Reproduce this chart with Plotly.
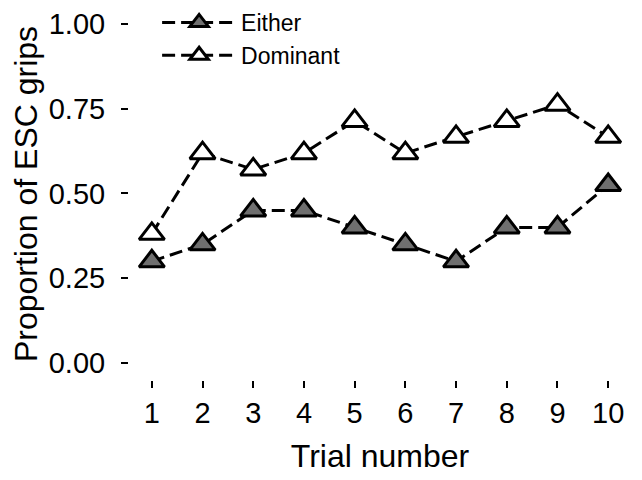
import plotly.graph_objects as go

trials = [1, 2, 3, 4, 5, 6, 7, 8, 9, 10]
either = [0.30, 0.35, 0.45, 0.45, 0.40, 0.35, 0.30, 0.40, 0.40, 0.525]
dominant = [0.381, 0.619, 0.571, 0.619, 0.714, 0.619, 0.667, 0.714, 0.762, 0.667]
y_ticks = [0.0, 0.25, 0.5, 0.75, 1.0]
y_ticklabels = ["0.00", "0.25", "0.50", "0.75", "1.00"]

FONT = "Liberation Sans, Arial, sans-serif"

fig = go.Figure()
fig.add_trace(go.Scatter(
    x=trials, y=either, name="Either", mode="lines+markers",
    line=dict(color="black", width=3, dash="13px,6px"),
    marker=dict(symbol="triangle-up", size=22, color="#6f6f6f",
                line=dict(color="black", width=3)),
))
fig.add_trace(go.Scatter(
    x=trials, y=dominant, name="Dominant", mode="lines+markers",
    line=dict(color="black", width=3, dash="13px,6px"),
    marker=dict(symbol="triangle-up", size=22, color="white",
                line=dict(color="black", width=3)),
))

# page has an 8px body margin, so the figure is 634x472
fig.update_layout(
    width=634, height=472,
    margin=dict(l=121, r=11, t=0, b=100, autoexpand=False),
    paper_bgcolor="white", plot_bgcolor="white",
    font=dict(family=FONT, color="black"),
    showlegend=True,
    legend=dict(x=0.056, y=1.019, xanchor="left", yanchor="top",
                font=dict(size=23, family=FONT), itemwidth=74,
                bgcolor="rgba(0,0,0,0)", tracegroupgap=0),
)
fig.update_xaxes(
    range=[0.55, 10.45], tickmode="array", tickvals=trials,
    ticktext=[str(t) for t in trials],
    showline=False, showgrid=False, zeroline=False,
    ticks="outside", ticklen=7, tickwidth=2, tickcolor="black",
    tickfont=dict(size=29, family=FONT),
    title=dict(text="Trial number", font=dict(size=32, family=FONT), standoff=16),
    automargin=False,
)
fig.update_yaxes(
    range=[-0.05, 1.047], tickmode="array", tickvals=y_ticks,
    ticktext=y_ticklabels,
    showline=False, showgrid=False, zeroline=False,
    ticks="outside", ticklen=7, tickwidth=2, tickcolor="black",
    ticklabelstandoff=10,
    tickfont=dict(size=29, family=FONT),
    title=dict(text="Proportion of ESC grips", font=dict(size=32, family=FONT), standoff=6),
    automargin=False,
)

fig.write_html("out.html")
